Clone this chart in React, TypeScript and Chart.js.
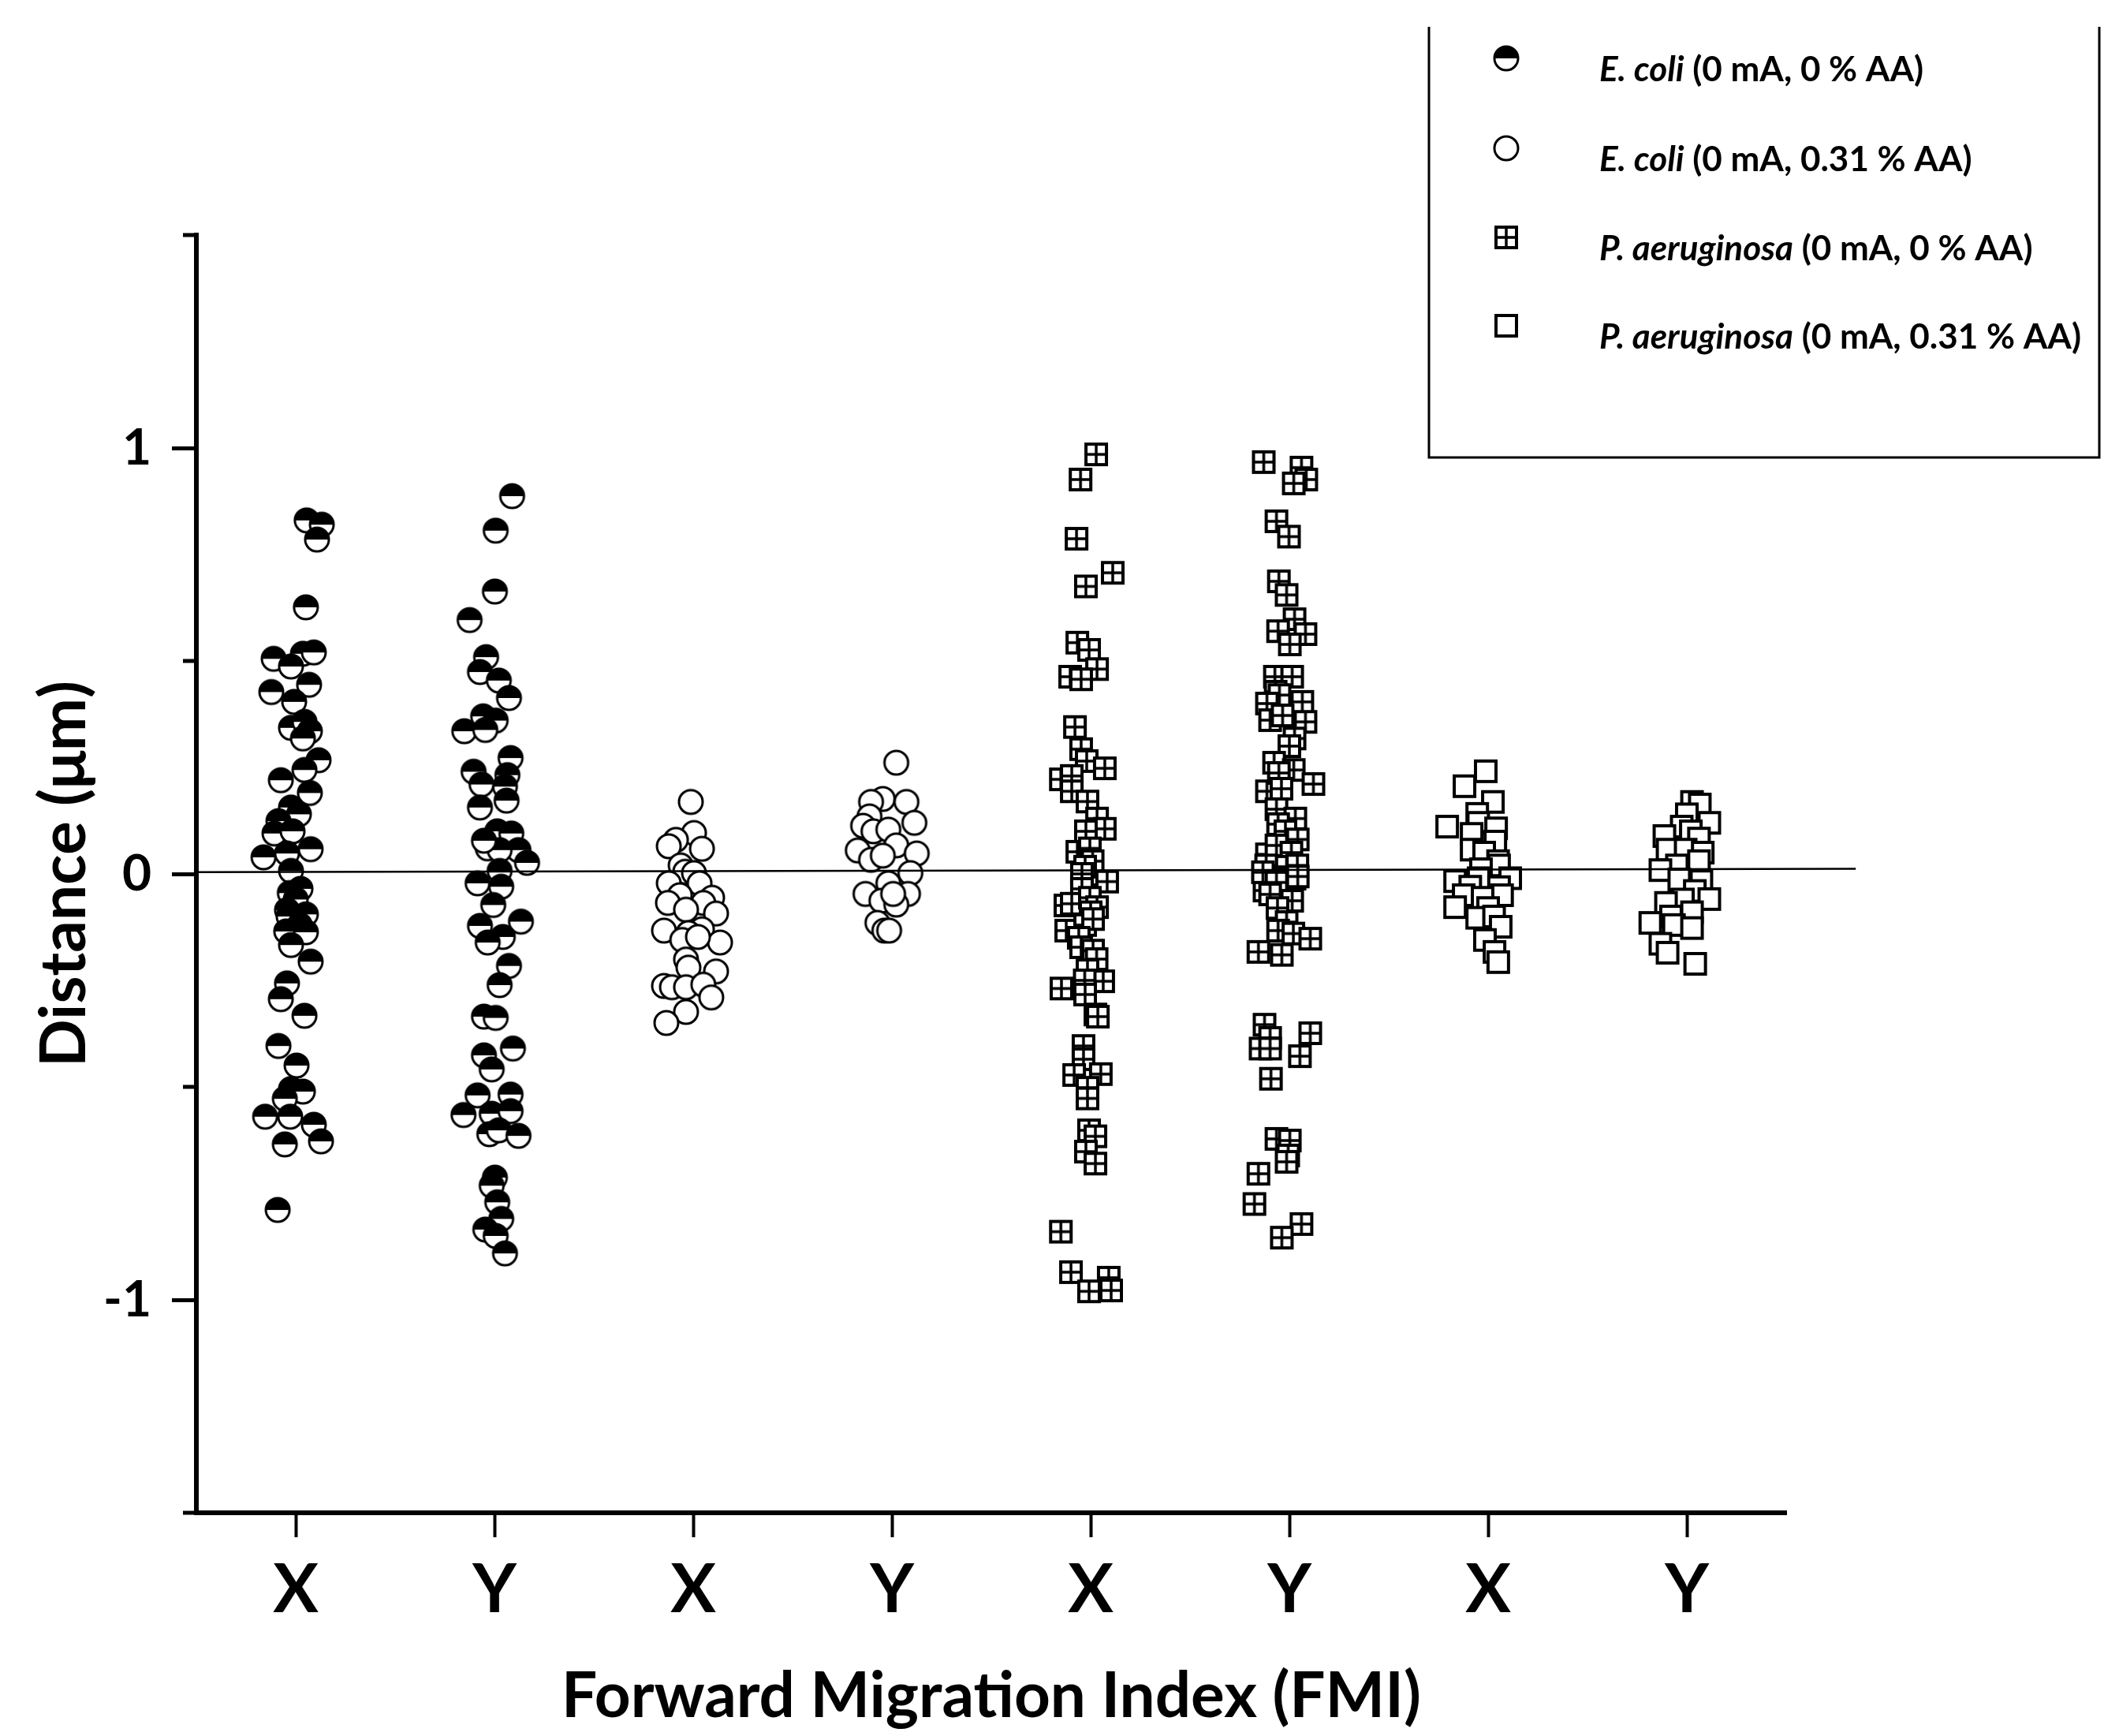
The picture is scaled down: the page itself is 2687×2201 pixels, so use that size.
import React, { useEffect, useRef } from 'react';
import { Chart, registerables } from 'chart.js';

Chart.register(...registerables);

const categories = ['X', 'Y', 'X', 'Y', 'X', 'Y', 'X', 'Y'];
const yTickValues = [-1, 0, 1];
const yTickLabels = ['-1', '0', '1'];
const yMinorTicks = [-1.5, -0.5, 0.5, 1.5];

const seriesSpecies = ['E. coli', 'E. coli', 'P. aeruginosa', 'P. aeruginosa'];
const seriesConditions = [' (0 mA, 0 % AA)', ' (0 mA, 0.31 % AA)', ' (0 mA, 0 % AA)', ' (0 mA, 0.31 % AA)'];

// each point: [jitter from the category position, distance in µm]
const ecoliNoAA_X = [
  [0.055, 0.83], [0.131, 0.82], [0.107, 0.785], [0.051, 0.626], [-0.111, 0.505], [0.036, 0.517], [0.091, 0.52],
  [-0.024, 0.487], [-0.123, 0.427], [0.067, 0.444], [-0.008, 0.404], [-0.024, 0.343], [0.044, 0.357], [0.071, 0.335],
  [0.036, 0.318], [0.115, 0.267], [0.044, 0.244], [-0.075, 0.22], [0.071, 0.19], [-0.024, 0.156], [0.016, 0.14],
  [-0.087, 0.124], [-0.107, 0.095], [-0.016, 0.1], [-0.162, 0.039], [-0.044, 0.048], [0.075, 0.058], [-0.024, 0.007],
  [0.024, -0.035], [-0.03, -0.045], [0.0, -0.06], [-0.044, -0.085], [0.051, -0.095], [-0.036, -0.1], [0.02, -0.12],
  [-0.048, -0.135], [0.051, -0.137], [-0.024, -0.167], [0.075, -0.206], [-0.044, -0.257], [-0.075, -0.294],
  [0.044, -0.333], [-0.087, -0.404], [0.004, -0.45], [-0.024, -0.505], [0.036, -0.511], [-0.055, -0.528],
  [-0.154, -0.57], [-0.028, -0.57], [0.091, -0.589], [-0.055, -0.635], [0.127, -0.628], [-0.091, -0.789],
];
const ecoliNoAA_Y = [
  [0.089, 0.887], [0.006, 0.806], [0.002, 0.663], [-0.125, 0.596], [-0.042, 0.509], [-0.073, 0.474], [0.022, 0.454],
  [0.073, 0.413], [-0.057, 0.37], [0.006, 0.36], [-0.152, 0.335], [-0.046, 0.338], [0.081, 0.272], [-0.105, 0.24],
  [0.065, 0.232], [0.053, 0.205], [-0.065, 0.21], [-0.073, 0.156], [0.061, 0.172], [0.014, 0.1], [0.085, 0.095],
  [0.121, 0.056], [0.164, 0.026], [-0.034, 0.06], [0.026, 0.056], [-0.053, 0.078], [-0.085, -0.022], [0.026, 0.007],
  [0.034, -0.03], [-0.006, -0.073], [-0.073, -0.122], [0.133, -0.112], [0.042, -0.148], [-0.034, -0.161],
  [0.073, -0.216], [0.026, -0.261], [-0.053, -0.335], [0.006, -0.338], [-0.053, -0.426], [0.093, -0.41],
  [-0.014, -0.459], [-0.085, -0.52], [0.081, -0.518], [-0.156, -0.566], [-0.014, -0.563], [0.081, -0.557],
  [-0.026, -0.611], [0.022, -0.602], [0.121, -0.615], [0.002, -0.713], [-0.014, -0.732], [0.014, -0.771],
  [0.034, -0.81], [-0.046, -0.835], [0.006, -0.85], [0.053, -0.891],
];
const ecoliAA_X = [
  [-0.012, 0.169], [0.004, 0.096], [-0.087, 0.08], [-0.123, 0.065], [0.044, 0.059], [-0.063, 0.02], [-0.04, 0.005],
  [0.004, 0.002], [-0.123, -0.022], [0.032, -0.022], [-0.067, -0.05], [0.095, -0.056], [-0.127, -0.068],
  [0.051, -0.068], [-0.036, -0.084], [0.115, -0.093], [-0.147, -0.133], [0.044, -0.13], [-0.024, -0.139],
  [-0.055, -0.155], [0.135, -0.161], [0.024, -0.148], [-0.036, -0.201], [0.115, -0.229], [-0.024, -0.22],
  [-0.147, -0.263], [-0.107, -0.266], [-0.036, -0.266], [0.051, -0.26], [0.091, -0.29], [-0.036, -0.324],
  [-0.135, -0.35],
];
const ecoliAA_Y = [
  [0.022, 0.261], [-0.046, 0.176], [0.073, 0.169], [-0.105, 0.169], [-0.113, 0.135], [0.113, 0.12], [-0.145, 0.113],
  [-0.093, 0.1], [-0.018, 0.104], [0.022, 0.067], [-0.172, 0.055], [-0.105, 0.033], [0.125, 0.048], [-0.046, 0.043],
  [0.093, 0.002], [-0.018, -0.022], [-0.133, -0.047], [0.081, -0.047], [-0.053, -0.063], [0.022, -0.072],
  [-0.073, -0.115], [-0.038, -0.133], [-0.014, -0.133], [0.006, -0.047],
];
const paerNoAA_X = [
  [0.028, 0.985], [-0.051, 0.926], [-0.071, 0.787], [0.111, 0.707], [-0.024, 0.675], [-0.067, 0.543], [-0.008, 0.526],
  [0.032, 0.481], [-0.103, 0.463], [-0.048, 0.457], [-0.079, 0.345], [-0.048, 0.293], [-0.02, 0.265], [0.071, 0.248],
  [-0.15, 0.222], [-0.095, 0.23], [-0.095, 0.194], [-0.016, 0.17], [0.032, 0.13], [0.071, 0.106], [-0.024, 0.1],
  [-0.067, 0.052], [-0.004, 0.06], [0.01, 0.03], [-0.028, 0.017], [0.083, -0.018], [-0.044, 0.0], [-0.02, -0.05],
  [-0.044, -0.035], [-0.127, -0.074], [-0.095, -0.07], [-0.004, -0.056], [0.032, -0.078], [0.0, -0.09],
  [-0.123, -0.133], [-0.028, -0.12], [0.012, -0.106], [-0.06, -0.15], [-0.048, -0.172], [0.012, -0.18],
  [0.03, -0.2], [-0.016, -0.226], [0.063, -0.252], [-0.03, -0.25], [-0.147, -0.269], [-0.028, -0.283],
  [0.024, -0.33], [0.036, -0.335], [-0.036, -0.404], [-0.036, -0.435], [-0.083, -0.472], [0.051, -0.47],
  [-0.016, -0.502], [-0.016, -0.527], [-0.008, -0.602], [0.024, -0.616], [-0.024, -0.652], [0.024, -0.68],
  [-0.15, -0.84], [-0.099, -0.935], [0.091, -0.948], [-0.008, -0.98], [0.103, -0.978],
];
const paerNoAA_Y = [
  [-0.129, 0.967], [0.061, 0.954], [0.085, 0.926], [0.022, 0.917], [-0.065, 0.828], [-0.002, 0.792], [-0.053, 0.687],
  [-0.014, 0.655], [0.026, 0.598], [-0.057, 0.57], [0.081, 0.563], [0.002, 0.539], [-0.073, 0.463], [0.014, 0.463],
  [-0.069, 0.428], [-0.05, 0.42], [-0.113, 0.4], [0.065, 0.404], [-0.097, 0.361], [0.081, 0.357], [-0.034, 0.372],
  [0.026, 0.318], [0.0, 0.3], [-0.077, 0.261], [0.022, 0.244], [0.121, 0.211], [-0.113, 0.194], [-0.053, 0.237],
  [-0.04, 0.2], [-0.065, 0.152], [0.03, 0.13], [-0.057, 0.117], [-0.02, 0.1], [0.042, 0.081], [-0.113, 0.046],
  [-0.065, 0.067], [0.01, 0.05], [-0.014, 0.017], [-0.117, 0.02], [0.04, 0.02], [-0.053, -0.011], [0.026, -0.011],
  [-0.125, -0.039], [-0.133, 0.004], [0.042, -0.006], [-0.065, -0.02], [-0.097, -0.048], [0.014, -0.063],
  [-0.06, -0.08], [-0.014, -0.113], [-0.057, -0.133], [0.02, -0.14], [0.105, -0.152], [-0.156, -0.183],
  [-0.038, -0.19], [-0.125, -0.354], [-0.097, -0.385], [0.105, -0.374], [-0.145, -0.41], [-0.097, -0.41],
  [0.053, -0.428], [-0.093, -0.481], [-0.065, -0.622], [0.002, -0.626], [-0.006, -0.661], [-0.014, -0.676],
  [-0.156, -0.704], [-0.176, -0.775], [0.061, -0.822], [-0.038, -0.854],
];
const paerAA_X = [
  [-0.012, 0.241], [-0.119, 0.206], [0.024, 0.169], [-0.055, 0.141], [-0.05, 0.12], [-0.206, 0.111], [0.04, 0.107],
  [-0.083, 0.094], [0.036, 0.076], [-0.083, 0.057], [-0.02, 0.05], [0.05, 0.03], [0.055, 0.02], [-0.036, 0.011],
  [0.111, -0.01], [-0.166, -0.017], [-0.048, -0.01], [-0.09, -0.03], [0.055, -0.031], [-0.123, -0.05],
  [0.07, -0.05], [-0.028, -0.056], [-0.166, -0.078], [0.0, -0.08], [-0.055, -0.103], [0.03, -0.1], [0.063, -0.124],
  [-0.016, -0.155], [0.032, -0.183], [0.051, -0.207],
];
const paerAA_Y = [
  [0.026, 0.169], [0.065, 0.163], [0.0, 0.14], [0.113, 0.12], [-0.026, 0.111], [0.02, 0.1], [-0.113, 0.089],
  [0.061, 0.083], [-0.097, 0.057], [-0.006, 0.057], [0.08, 0.05], [0.061, 0.03], [-0.05, 0.02], [-0.133, 0.009],
  [-0.038, -0.013], [0.073, -0.017], [0.04, -0.04], [0.113, -0.059], [-0.02, -0.06], [-0.105, -0.068],
  [0.026, -0.09], [-0.08, -0.1], [-0.184, -0.115], [-0.065, -0.12], [0.026, -0.127], [-0.133, -0.164],
  [-0.097, -0.185], [0.042, -0.211],
];
const zeroLine = [[0.5, 0.004], [8.85, 0.012]];

function toPoints(first: number[][], second: number[][], cat: number) {
  return [
    ...first.map(([dx, y]) => ({ x: cat + dx, y })),
    ...second.map(([dx, y]) => ({ x: cat + 1 + dx, y })),
  ];
}

function makeMarker(kind: string): HTMLCanvasElement {
  const c = document.createElement('canvas');
  const s = 36;
  c.width = s;
  c.height = s;
  const g = c.getContext('2d') as CanvasRenderingContext2D;
  const m = s / 2;
  g.strokeStyle = '#000';
  if (kind === 'half' || kind === 'circle') {
    const r = 15;
    g.beginPath();
    g.arc(m, m, r, 0, Math.PI * 2);
    g.fillStyle = '#fff';
    g.fill();
    if (kind === 'half') {
      g.beginPath();
      g.arc(m, m, r, Math.PI, 0);
      g.closePath();
      g.fillStyle = '#000';
      g.fill();
    }
    g.beginPath();
    g.arc(m, m, r, 0, Math.PI * 2);
    g.lineWidth = 3;
    g.stroke();
  } else {
    const h = 13;
    g.fillStyle = '#fff';
    g.fillRect(m - h, m - h, 2 * h, 2 * h);
    g.lineWidth = 4;
    g.strokeRect(m - h, m - h, 2 * h, 2 * h);
    if (kind === 'grid') {
      g.lineWidth = 3.5;
      g.beginPath();
      g.moveTo(m, m - h);
      g.lineTo(m, m + h);
      g.moveTo(m - h, m);
      g.lineTo(m + h, m);
      g.stroke();
    }
  }
  return c;
}

const App: React.FC = () => {
  const chartRef = useRef<HTMLCanvasElement>(null);
  const chartInstance = useRef<Chart | null>(null);

  useEffect(() => {
    if (!chartRef.current) return;
    if (chartInstance.current) chartInstance.current.destroy();

    const markers = [makeMarker('half'), makeMarker('circle'), makeMarker('grid'), makeMarker('square')];
    const boldFont = { family: 'Lato', weight: 'bold' as const };

    const extras = {
      id: 'extras',
      afterDraw(chart: Chart) {
        const { ctx, chartArea, scales } = chart;
        ctx.save();
        // shorter minor ticks on the y axis
        ctx.strokeStyle = '#000';
        ctx.lineWidth = 5;
        yMinorTicks.forEach((v) => {
          const py = scales.y.getPixelForValue(v);
          ctx.beginPath();
          ctx.moveTo(chartArea.left - 17, py);
          ctx.lineTo(chartArea.left, py);
          ctx.stroke();
        });

        // legend box (top edge is cut off in the original)
        ctx.lineWidth = 3;
        ctx.beginPath();
        ctx.moveTo(1812, 34);
        ctx.lineTo(1812, 580);
        ctx.lineTo(2662, 580);
        ctx.lineTo(2662, 34);
        ctx.stroke();

        const rows = [74, 188, 301, 413];
        const size = 44;
        const widths = seriesSpecies.map((sp, i) => {
          ctx.font = `italic bold ${size}px Lato`;
          const a = ctx.measureText(sp).width;
          ctx.font = `bold ${size}px Lato`;
          return a + ctx.measureText(seriesConditions[i]).width;
        });
        const sx = Math.min(1, 620 / Math.max(...widths));
        ctx.fillStyle = '#000';
        ctx.textBaseline = 'alphabetic';
        rows.forEach((ry, i) => {
          const mk = markers[i];
          ctx.drawImage(mk, 1910 - mk.width / 2, ry - mk.height / 2);
          ctx.save();
          ctx.translate(2028, ry + 29);
          ctx.scale(sx, 1);
          ctx.font = `italic bold ${size}px Lato`;
          ctx.fillText(seriesSpecies[i], 0, 0);
          const w = ctx.measureText(seriesSpecies[i]).width;
          ctx.font = `bold ${size}px Lato`;
          ctx.fillText(seriesConditions[i], w, 0);
          ctx.restore();
        });
        ctx.restore();
      },
    };

    const isMajor = (v: number) => yTickValues.some((t) => Math.abs(t - v) < 1e-6);

    chartInstance.current = new Chart(chartRef.current, {
      type: 'scatter',
      data: {
        datasets: [
          {
            type: 'line',
            label: 'zero',
            data: zeroLine.map(([x, y]) => ({ x, y })),
            borderColor: '#000',
            borderWidth: 2.5,
            pointRadius: 0,
            clip: false,
            order: 0,
          } as any,
          ...[
            toPoints(ecoliNoAA_X, ecoliNoAA_Y, 1),
            toPoints(ecoliAA_X, ecoliAA_Y, 3),
            toPoints(paerNoAA_X, paerNoAA_Y, 5),
            toPoints(paerAA_X, paerAA_Y, 7),
          ].map((pts, i) => ({
            label: seriesSpecies[i] + seriesConditions[i],
            data: pts,
            pointStyle: markers[i],
            pointRadius: 16,
            pointHoverRadius: 16,
            order: 1 + i,
          })),
        ],
      },
      options: {
        animation: false,
        responsive: false,
        devicePixelRatio: 1,
        layout: { padding: { left: 0, top: 298, right: 422, bottom: 0 } },
        plugins: { legend: { display: false }, tooltip: { enabled: false } },
        scales: {
          x: {
            type: 'linear',
            min: 0.5,
            max: 8.5,
            afterBuildTicks: (axis: any) => {
              axis.ticks = categories.map((_, i) => ({ value: i + 1 }));
            },
            afterFit: (s: any) => {
              s.height = 283;
            },
            grid: { drawOnChartArea: false, drawTicks: true, tickLength: 31, tickWidth: 4, tickColor: '#000' },
            border: { display: true, color: '#000', width: 6 },
            ticks: {
              autoSkip: false,
              maxRotation: 0,
              padding: 16,
              color: '#000',
              font: { ...boldFont, size: 86 },
              callback: (v: any) => categories[Math.round(Number(v)) - 1] ?? '',
            },
            title: {
              display: true,
              text: 'Forward Migration Index (FMI)',
              color: '#000',
              font: { ...boldFont, size: 80 },
              padding: { top: 0, bottom: 2 },
            },
          },
          y: {
            type: 'linear',
            min: -1.5,
            max: 1.5,
            afterFit: (s: any) => {
              s.width = 249;
            },
            grid: {
              drawOnChartArea: false,
              drawTicks: true,
              tickLength: 31,
              tickWidth: 5,
              tickColor: (c: any) => (c.tick && isMajor(c.tick.value) ? '#000' : 'rgba(0,0,0,0)'),
            },
            border: { display: true, color: '#000', width: 6 },
            ticks: {
              stepSize: 0.5,
              padding: 26,
              color: '#000',
              font: { ...boldFont, size: 64 },
              callback: (v: any) => {
                const i = yTickValues.findIndex((t) => Math.abs(t - Number(v)) < 1e-6);
                return i >= 0 ? yTickLabels[i] : '';
              },
            },
            title: {
              display: true,
              text: 'Distance (μm)',
              color: '#000',
              font: { ...boldFont, size: 80 },
              padding: { top: 34, bottom: 0 },
            },
          },
        },
      },
      plugins: [extras],
    });

    return () => {
      if (chartInstance.current) {
        chartInstance.current.destroy();
        chartInstance.current = null;
      }
    };
  }, []);

  return (
    <div style={{ position: 'absolute', left: 0, top: 0, width: 2687, height: 2201, background: '#fff' }}>
      <canvas ref={chartRef} width={2687} height={2201} style={{ display: 'block' }}></canvas>
    </div>
  );
};

export default App;
